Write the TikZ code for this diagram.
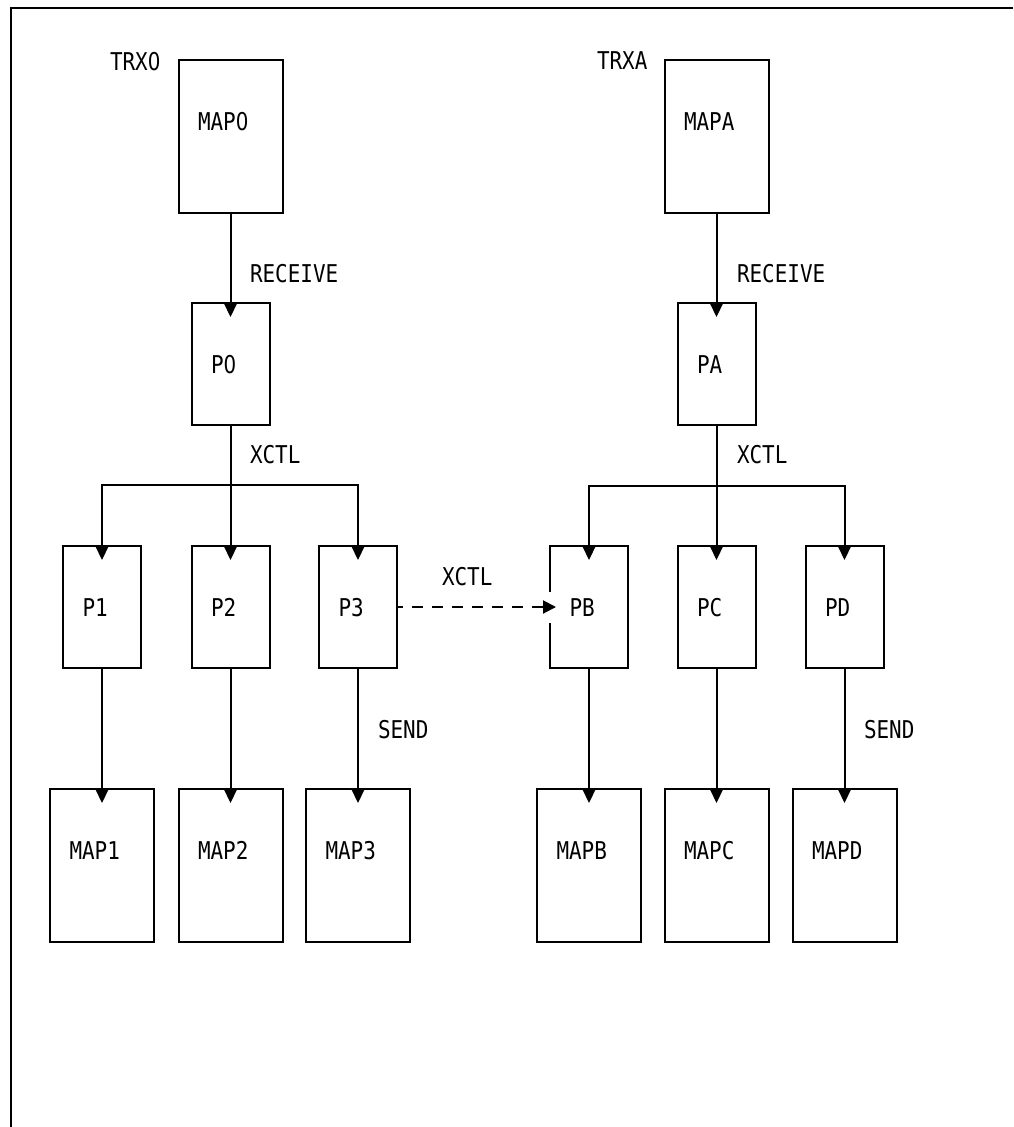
\documentclass[tikz,border=0pt]{standalone}
\usepackage{fontspec}
\newfontfamily\diafont[FakeStretch=0.855]{DejaVu Sans Mono}
\newfontfamily\zerofont[FakeStretch=0.809]{DejaVu Sans}
\newcommand{\zr}{{\zerofont 0}}
\usetikzlibrary{arrows.meta}
\begin{document}
\begin{tikzpicture}[x=1pt,y=-1pt,line width=2pt,
  pbox/.style={draw,line width=2pt,inner sep=0pt,outer sep=0pt,minimum width=78pt,minimum height=122pt,anchor=north},
  mbox/.style={pbox,minimum width=104pt,minimum height=153pt},
  txt/.style={font=\diafont\fontsize{24.5}{28}\selectfont,inner sep=0pt,outer sep=0pt,anchor=west},
  arr/.style={-{Triangle[length=15pt,width=14pt]}},
  darr/.style={dash pattern=on 11pt off 9pt,dash phase=5pt,-{Triangle[length=13pt,width=13pt]}}]
\useasboundingbox (0,0) rectangle (1013,1127);
% outer frame (top and left only)
\draw[line width=2.2pt] (1013,8) -- (11,8) -- (11,1127);

% boxes
\node[mbox] (MAP0) at (230.5,60) {};
\node[mbox] (MAPA) at (716.5,60) {};
\node[pbox] (P0) at (230.5,303) {};
\node[pbox] (PA) at (716.5,303) {};
\node[pbox] (P1) at (102,546) {};
\node[pbox] (P2) at (230.5,546) {};
\node[pbox] (P3) at (358,546) {};
\node[pbox] (PB) at (589,546) {};
\node[pbox] (PC) at (716.5,546) {};
\node[pbox] (PD) at (844.5,546) {};
\node[mbox] (MAP1) at (102,789) {};
\node[mbox] (MAP2) at (230.5,789) {};
\node[mbox] (MAP3) at (358,789) {};
\node[mbox] (MAPB) at (589,789) {};
\node[mbox] (MAPC) at (716.5,789) {};
\node[mbox] (MAPD) at (844.5,789) {};

% box texts
\foreach \b/\t in {MAP0/MAP\zr,MAPA/MAPA,P0/P\zr,PA/PA,P1/P1,P2/P2,P3/P3,PB/PB,PC/PC,PD/PD,MAP1/MAP1,MAP2/MAP2,MAP3/MAP3,MAPB/MAPB,MAPC/MAPC,MAPD/MAPD}{
  \node[txt] (t\b) at ([xshift=19.5pt,yshift=-61.5pt]\b.north west) {\t};
}

% labels
\node[txt] (trx0) at (110,62) {TRX\zr};
\node[txt] (trxa) at (597,61) {TRXA};
\node[txt] (rcv0) at (250,274) {RECEIVE};
\node[txt] (rcva) at (737,274) {RECEIVE};
\node[txt] (xc0) at (250,455) {XCTL};
\node[txt] (xca) at (737,455) {XCTL};
\node[txt] (xcm) at (442,577) {XCTL};
\node[txt] (snd3) at (378,730) {SEND};
\node[txt] (sndd) at (864,730) {SEND};

% connectors
\draw[arr] (MAP0.south) -- ([yshift=-14pt]P0.north);
\draw[arr] (MAPA.south) -- ([yshift=-14pt]PA.north);

\coordinate (j0) at (230.5,485);
\coordinate (ja) at (716.5,486);
\draw (P0.south) -- (j0);
\draw (PA.south) -- (ja);
\draw[arr] (j0) -| ([yshift=-14pt]P1.north);
\draw[arr] (j0) -- ([yshift=-14pt]P2.north);
\draw[arr] (j0) -| ([yshift=-14pt]P3.north);
\draw[arr] (ja) -| ([yshift=-14pt]PB.north);
\draw[arr] (ja) -- ([yshift=-14pt]PC.north);
\draw[arr] (ja) -| ([yshift=-14pt]PD.north);

\foreach \p/\m in {P1/MAP1,P2/MAP2,P3/MAP3,PB/MAPB,PC/MAPC,PD/MAPD}{
  \draw[arr] (\p.south) -- ([yshift=-14pt]\m.north);
}

% dashed XCTL from P3 to PB
\fill[white] ([xshift=-3pt,yshift=15pt]PB.west) rectangle ([xshift=3pt,yshift=-16pt]PB.west);
\draw[darr] (P3.east) -- ([xshift=6pt]PB.west);
\end{tikzpicture}
\end{document}
